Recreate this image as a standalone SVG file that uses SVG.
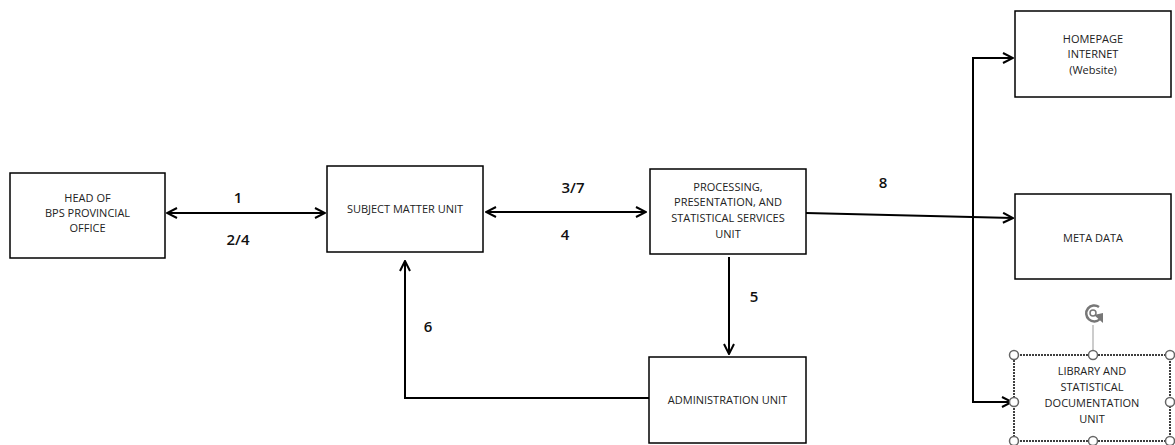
<svg xmlns="http://www.w3.org/2000/svg" width="1175" height="445" viewBox="0 0 1175 445">
<style>
.box{fill:#fff;stroke:#000;stroke-width:1.5}
.t{font-family:"Open Sans","Liberation Sans",sans-serif;font-size:11px;fill:#222;text-anchor:middle}
.n{font-family:"Open Sans","Liberation Sans",sans-serif;font-size:15px;font-weight:600;fill:#111;text-anchor:middle}
.c{fill:none;stroke:#000;stroke-width:2}
.h{fill:#fff;stroke:#666;stroke-width:1.5}
</style>
<defs>
<marker id="a" viewBox="0 0 12 12" refX="11" refY="6" markerWidth="12" markerHeight="12" markerUnits="userSpaceOnUse" orient="auto-start-reverse">
<path d="M1,1 L11,6 L1,11" fill="none" stroke="#000" stroke-width="2"/>
</marker>
</defs>
<rect width="1175" height="445" fill="#fff"/>
<g id="connectors">
<line class="c" x1="167" y1="213" x2="325" y2="213" marker-start="url(#a)" marker-end="url(#a)"/>
<line class="c" x1="486" y1="212" x2="646" y2="212" marker-start="url(#a)" marker-end="url(#a)"/>
<line class="c" x1="729" y1="257" x2="729" y2="354" marker-end="url(#a)"/>
<polyline class="c" points="649,398 405,398 405,261" marker-end="url(#a)"/>
<line class="c" x1="806" y1="213" x2="1013" y2="218" marker-end="url(#a)"/>
<polyline class="c" points="1013,58 973,58 973,402 1012,402" marker-start="url(#a)" marker-end="url(#a)"/>
<text class="n" x="238" y="203">1</text>
<text class="n" x="238" y="245">2/4</text>
<text class="n" x="573" y="193">3/7</text>
<text class="n" x="565" y="240">4</text>
<text class="n" x="754" y="302">5</text>
<text class="n" x="428" y="332">6</text>
<text class="n" x="883" y="188">8</text>
</g>
<g id="head">
<rect class="box" x="10" y="173" width="155" height="85"/>
<text class="t" x="87.5" y="202">HEAD OF</text>
<text class="t" x="87.5" y="217">BPS PROVINCIAL</text>
<text class="t" x="87.5" y="232">OFFICE</text>
</g>
<g id="subject">
<rect class="box" x="327" y="166" width="156" height="86"/>
<text class="t" x="405" y="213">SUBJECT MATTER UNIT</text>
</g>
<g id="processing">
<rect class="box" x="650" y="169" width="156" height="85"/>
<text class="t" x="728" y="191">PROCESSING,</text>
<text class="t" x="728" y="206">PRESENTATION, AND</text>
<text class="t" x="728" y="222">STATISTICAL SERVICES</text>
<text class="t" x="728" y="238">UNIT</text>
</g>
<g id="admin">
<rect class="box" x="649" y="357" width="157" height="86"/>
<text class="t" x="727.5" y="404">ADMINISTRATION UNIT</text>
</g>
<g id="homepage">
<rect class="box" x="1015" y="11" width="156" height="86"/>
<text class="t" x="1093" y="43">HOMEPAGE</text>
<text class="t" x="1093" y="58">INTERNET</text>
<text class="t" x="1093" y="74">(Website)</text>
</g>
<g id="meta">
<rect class="box" x="1015" y="194" width="156" height="85"/>
<text class="t" x="1093" y="242">META DATA</text>
</g>
<g id="library">
<rect class="box" x="1014" y="355" width="156" height="86" stroke-dasharray="2 1"/>
<text class="t" x="1092" y="375">LIBRARY AND</text>
<text class="t" x="1092" y="391">STATISTICAL</text>
<text class="t" x="1092" y="407">DOCUMENTATION</text>
<text class="t" x="1092" y="423">UNIT</text>
<line x1="1093" y1="325" x2="1093" y2="355" stroke="#999" stroke-width="1"/>
<path d="M1099,307 A8,8 0 1 0 1100,319" fill="none" stroke="#777" stroke-width="2.5"/>
<circle cx="1093" cy="313" r="3" fill="none" stroke="#777" stroke-width="1.5"/>
<path d="M1094,315 L1103,323 L1103,313 Z" fill="#777"/>
<circle class="h" cx="1014" cy="355" r="4.5"/>
<circle class="h" cx="1093" cy="355" r="4.5"/>
<circle class="h" cx="1170" cy="355" r="4.5"/>
<circle class="h" cx="1014" cy="402" r="4.5"/>
<circle class="h" cx="1170" cy="402" r="4.5"/>
<circle class="h" cx="1014" cy="441" r="4.5"/>
<circle class="h" cx="1093" cy="441" r="4.5"/>
<circle class="h" cx="1170" cy="441" r="4.5"/>
</g>
</svg>
